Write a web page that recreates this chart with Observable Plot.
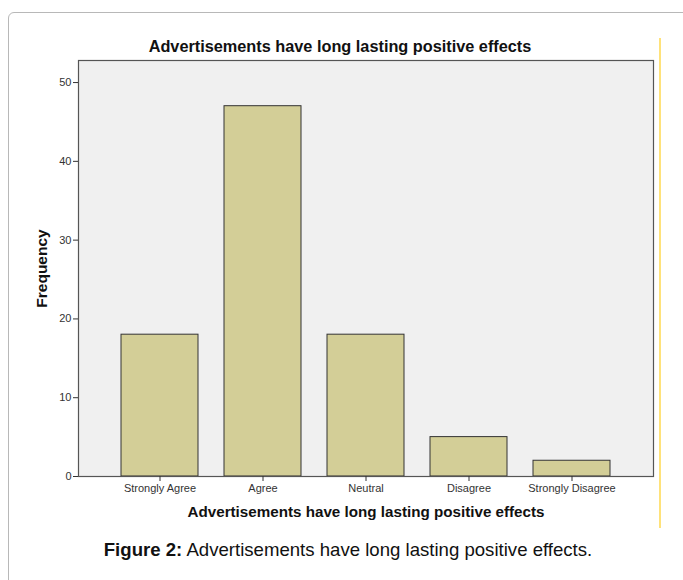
<!DOCTYPE html>
<html>
<head>
<meta charset="utf-8">
<script src="https://cdn.jsdelivr.net/npm/d3@7"></script>
<script src="https://cdn.jsdelivr.net/npm/@observablehq/plot@0.6"></script>
<style>
  html, body { margin: 0; padding: 0; background: #fff; }
  #wrap { position: relative; width: 683px; height: 580px; overflow: hidden; font-family: "Liberation Sans", Arial, sans-serif; }
  #card { position: absolute; left: 8px; top: 12px; width: 740px; height: 640px; border: 1px solid #b8b8b8; border-radius: 6px; box-sizing: border-box; }
  #yline { position: absolute; left: 659px; top: 38px; width: 1.5px; height: 490px; background: #ffe27a; }
  #title { position: absolute; left: 40px; width: 600px; top: 37px; text-align: center; font-weight: bold; font-size: 16.3px; color: #111; }
  #chart { position: absolute; left: 0; top: 0; }
  #caption { position: absolute; left: 0; width: 696px; top: 539px; text-align: center; font-size: 18.6px; color: #111; }
</style>
</head>
<body>
<div id="wrap">
  <div id="card"></div>
  <div id="yline"></div>
  <div id="chart"></div>
  <div id="title">Advertisements have long lasting positive effects</div>
  <div id="caption"><b>Figure 2:</b> Advertisements have long lasting positive effects.</div>
</div>
<script>
const categories = ["Strongly Agree", "Agree", "Neutral", "Disagree", "Strongly Disagree"];
const frequencies = [18, 47, 18, 5, 2];
const yTicks = [0, 10, 20, 30, 40, 50];
const xTitle = "Advertisements have long lasting positive effects";
const yTitle = "Frequency";

const data = categories.map((c, i) => ({cat: c, freq: frequencies[i]}));

const chart = Plot.plot({
  width: 683,
  height: 530,
  marginLeft: 78,
  marginRight: 30,
  marginTop: 60,
  marginBottom: 54,
  style: {fontFamily: "'Liberation Sans', Arial, sans-serif", fontSize: "11px", color: "#333", background: "transparent", overflow: "visible"},
  x: {domain: categories, paddingInner: 0.256, paddingOuter: 0.406, label: null},
  y: {domain: [0, 52.8], label: null},
  marks: [
    Plot.frame({fill: "#f0f0f0", stroke: null}),
    Plot.barY(data, {x: "cat", y: "freq", fill: "#d3ce97", stroke: "#333", strokeWidth: 1}),
    Plot.frame({stroke: "#555", strokeWidth: 1.2}),
    Plot.axisX({tickSize: 5, tickPadding: 3, label: null, stroke: "#333"}),
    Plot.axisY({ticks: yTicks, tickSize: 5, tickPadding: 2, label: null, stroke: "#333"}),
    Plot.text([yTitle], {text: d => d, frameAnchor: "left", textAnchor: "middle", dx: -36, rotate: -90, fontWeight: "bold", fontSize: 15.5, fill: "#111"}),
    Plot.text([xTitle], {text: d => d, frameAnchor: "bottom", textAnchor: "middle", dy: 40, fontWeight: "bold", fontSize: 15.2, fill: "#111"})
  ]
});
document.getElementById("chart").appendChild(chart);
</script>
</body>
</html>
